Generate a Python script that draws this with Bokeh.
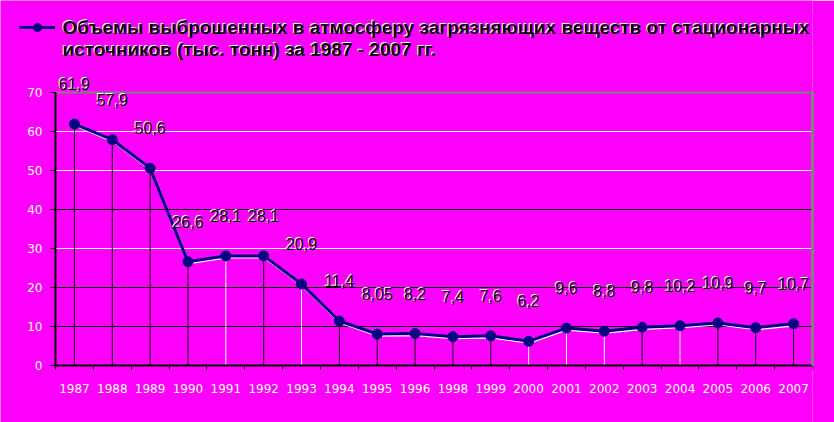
from bokeh.plotting import figure
from bokeh.models import (ColumnDataSource, Range1d, LabelSet, Label, Grid,
                          Legend, LegendItem, FixedTicker, LinearAxis)
from bokeh.transform import dodge
from bokeh.embed import file_html
from bokeh.resources import INLINE
from bokeh.core.properties import value

# ---- data ----
years = ["1987", "1988", "1989", "1990", "1991", "1992", "1993", "1994", "1995", "1996",
         "1998", "1999", "2000", "2001", "2002", "2003", "2004", "2005", "2006", "2007"]
emissions = [61.9, 57.9, 50.6, 26.6, 28.1, 28.1, 20.9, 11.4, 8.05, 8.2,
             7.4, 7.6, 6.2, 9.6, 8.8, 9.8, 10.2, 10.9, 9.7, 10.7]
y_ticks = [0, 10, 20, 30, 40, 50, 60, 70]
title_line1 = "Объемы выброшенных в атмосферу загрязняющих веществ от стационарных"
title_line2 = "источников (тыс. тонн) за 1987 - 2007 гг."

# ---- styles ----
drop_colors = ["black", "black", "black", "black", "white", "black", "white", "black", "black", "black",
               "black", "black", "white", "white", "white", "black", "white", "black", "black", "black"]
black_grid = [10, 20, 40]
white_grid = [30, 50, 60]
BG = "#FF00FF"
NAVY = "#000080"

n = len(years)
idx = list(range(n))                      # category slots
x_lo, x_hi = -0.5, n - 0.5                # category extent
labels = [("%g" % v).replace(".", ",") for v in emissions]
src = ColumnDataSource(dict(x=idx, y=emissions, lbl=labels, dc=drop_colors, zero=[0] * n))

# frame covers the whole canvas except the right edge;
# 1 category = 37.85 px, 10 units = 39 px
p = figure(width=834, height=422, x_range=Range1d(x_lo - 55 / 37.85, x_hi),
           y_range=Range1d(-57 / 3.9, 70 + 92 / 3.9),
           output_backend="svg", toolbar_location=None, x_axis_type=None, y_axis_type=None,
           min_border_left=0, min_border_right=22, min_border_top=0, min_border_bottom=0)
p.background_fill_color = BG
p.border_fill_color = BG
p.outline_line_color = None
p.xgrid.visible = False
p.ygrid.visible = False

for ticks, col, w in ((black_grid, "black", 1), (white_grid, "white", 1), ([max(y_ticks)], "#808080", 2)):
    p.add_layout(Grid(dimension=1, ticker=FixedTicker(ticks=ticks), cross_bounds=(x_lo, x_hi),
                      grid_line_color=col, grid_line_width=w, level="underlay"))

# drop lines
p.segment(x0="x", y0="zero", x1="x", y1="y", source=src, line_color="dc", line_width=1)

# line with white shadow
p.line(x=dodge("x", 0.02, range=p.x_range), y=dodge("y", -0.35, range=p.y_range), source=src,
       line_color="white", line_width=2.5)
line_r = p.line(x="x", y="y", source=src, line_color=NAVY, line_width=3)
pts_r = p.scatter(x="x", y="y", source=src, size=10, fill_color=NAVY, line_color=NAVY)

# value labels with white shadow
p.add_layout(LabelSet(x="x", y="y", text="lbl", source=src, x_offset=-1, y_offset=41,
                      text_align="center", text_baseline="middle", text_color="white",
                      text_font=value("Liberation Sans"), text_font_size="16px"))
p.add_layout(LabelSet(x="x", y="y", text="lbl", source=src, y_offset=40,
                      text_align="center", text_baseline="middle", text_color="black",
                      text_font=value("Liberation Sans"), text_font_size="16px"))

# axes
yax = LinearAxis(ticker=FixedTicker(ticks=y_ticks), bounds=(0, max(y_ticks)), fixed_location=x_lo,
                 axis_line_color="black", axis_line_width=2,
                 major_tick_out=5, major_tick_in=0, major_tick_line_color="black",
                 minor_tick_line_color=None, major_label_standoff=8,
                 major_label_text_color="white", major_label_text_font="DejaVu Sans",
                 major_label_text_font_size="12px")
p.add_layout(yax, "left")

xax = LinearAxis(ticker=FixedTicker(ticks=idx, minor_ticks=[i - 0.5 for i in idx] + [x_hi]),
                 major_label_overrides={i: y for i, y in zip(idx, years)},
                 bounds=(x_lo, x_hi), fixed_location=0, axis_line_color="black", axis_line_width=2,
                 major_tick_line_color=None, minor_tick_out=4, minor_tick_in=0,
                 minor_tick_line_color="black", major_label_standoff=12,
                 major_label_text_color="white", major_label_text_font="DejaVu Sans",
                 major_label_text_font_size="12px")
p.add_layout(xax, "below")

right_edge = LinearAxis(bounds=(0, max(y_ticks)), ticker=FixedTicker(ticks=[]),
                        axis_line_color="#808080", axis_line_width=3,
                        major_tick_line_color=None, minor_tick_line_color=None)
p.add_layout(right_edge, "right")

# title with shadow + legend sample (screen units from frame bottom, which is the canvas bottom)
for dx, dy, col in ((-1, 1, "white"), (0, 0, "black")):
    for txt, yy in ((title_line1, 395), (title_line2, 373)):
        p.add_layout(Label(x=62 + dx, y=yy + dy, x_units="screen", y_units="screen", text=txt,
                           text_baseline="middle", text_align="left", text_color=col,
                           text_font="Liberation Sans", text_font_style="bold",
                           text_font_size="19px"))
p.add_layout(Legend(items=[LegendItem(label=" ", renderers=[line_r, pts_r])],
                    location=(19, 385), padding=0, margin=0, spacing=0,
                    glyph_width=36, glyph_height=20, label_standoff=0, label_width=1,
                    label_text_font_size="2px", background_fill_alpha=0, border_line_color=None),
             "center")

open("out.html", "w").write(file_html(p, INLINE))
